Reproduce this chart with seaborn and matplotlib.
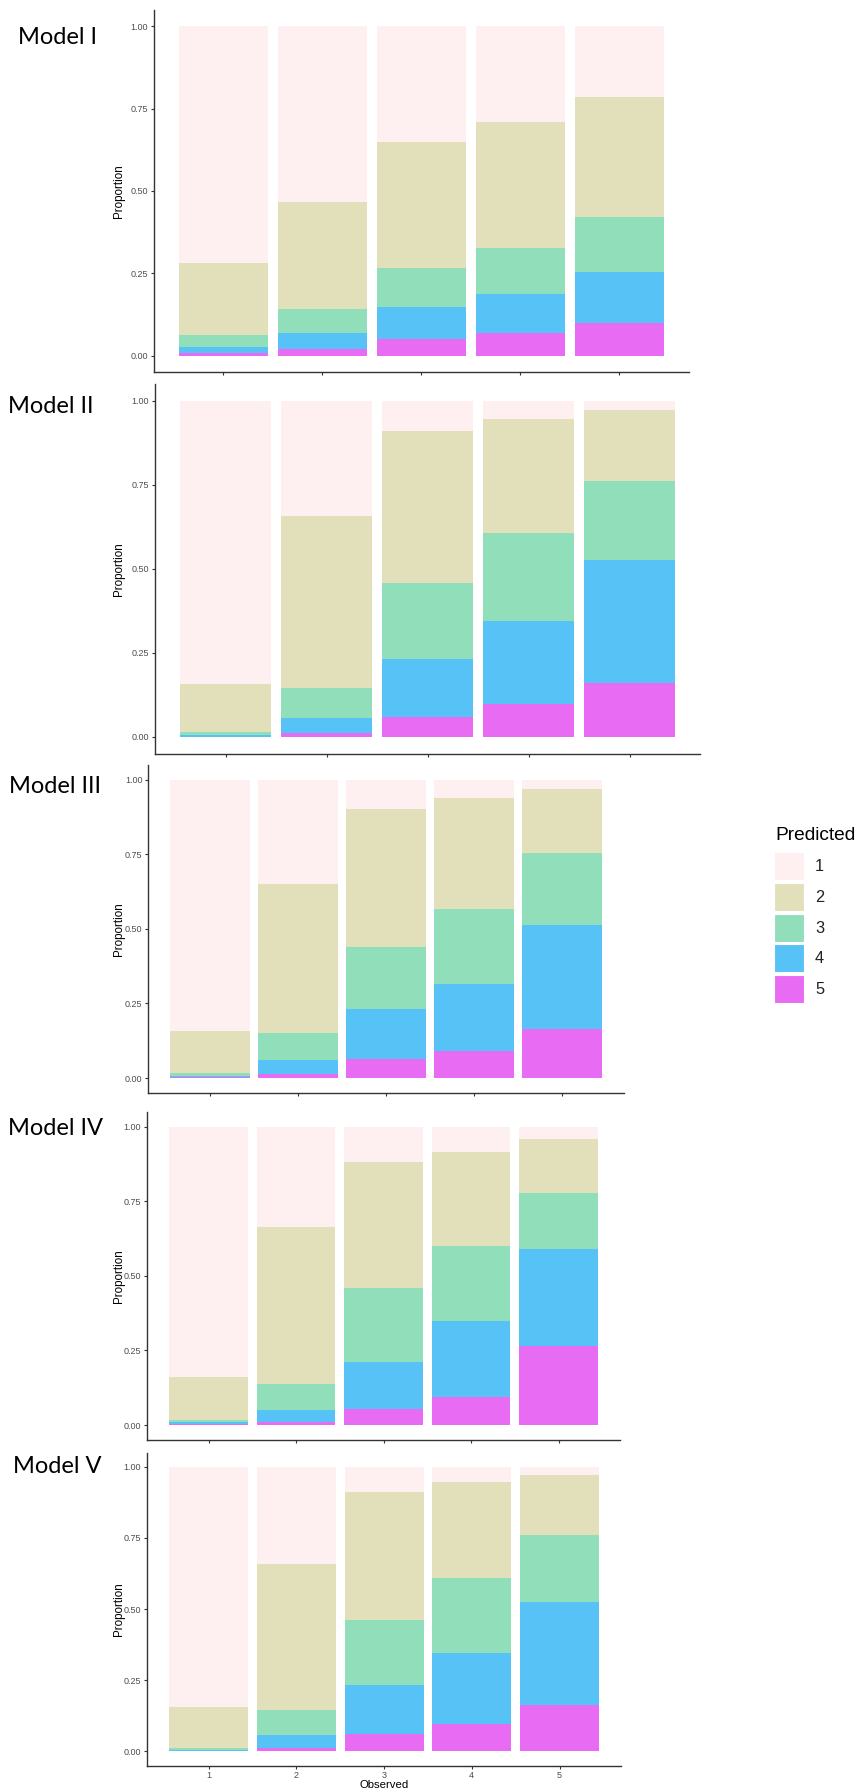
import matplotlib
matplotlib.use("Agg")
import matplotlib.pyplot as plt
import seaborn as sns
from matplotlib.patches import Rectangle

# ---------------- data ----------------
observed = ["1", "2", "3", "4", "5"]
predicted = ["1", "2", "3", "4", "5"]
colors = ["#FEF0F0", "#E2E0BB", "#91DEBA", "#57C2F6", "#E76BF3"]
model_names = ["Model I", "Model II", "Model III", "Model IV", "Model V"]
tick_vals = [0.0, 0.25, 0.5, 0.75, 1.0]
tick_labels = ["0.00", "0.25", "0.50", "0.75", "1.00"]

# rows: predicted class 1..5 ; columns: observed class 1..5
model_I = [
    [0.718, 0.535, 0.352, 0.290, 0.214],
    [0.219, 0.325, 0.383, 0.383, 0.365],
    [0.036, 0.071, 0.119, 0.141, 0.168],
    [0.020, 0.049, 0.095, 0.117, 0.155],
    [0.007, 0.020, 0.051, 0.069, 0.098],
]
model_II = [
    [0.843, 0.344, 0.089, 0.054, 0.028],
    [0.143, 0.509, 0.452, 0.339, 0.212],
    [0.009, 0.090, 0.227, 0.263, 0.234],
    [0.004, 0.046, 0.173, 0.247, 0.365],
    [0.001, 0.011, 0.059, 0.097, 0.161],
]
model_III = [
    [0.842, 0.350, 0.097, 0.060, 0.031],
    [0.141, 0.499, 0.462, 0.374, 0.214],
    [0.009, 0.092, 0.211, 0.249, 0.242],
    [0.006, 0.046, 0.166, 0.225, 0.347],
    [0.002, 0.013, 0.064, 0.092, 0.166],
]
model_IV = [
    [0.840, 0.336, 0.118, 0.086, 0.042],
    [0.142, 0.527, 0.423, 0.314, 0.181],
    [0.009, 0.086, 0.247, 0.251, 0.187],
    [0.007, 0.040, 0.158, 0.254, 0.324],
    [0.002, 0.011, 0.054, 0.095, 0.266],
]
model_V = [
    [0.844, 0.343, 0.089, 0.054, 0.028],
    [0.144, 0.513, 0.451, 0.338, 0.212],
    [0.007, 0.088, 0.228, 0.263, 0.234],
    [0.004, 0.045, 0.173, 0.248, 0.365],
    [0.001, 0.011, 0.059, 0.097, 0.161],
]
models = [model_I, model_II, model_III, model_IV, model_V]

# ---------------- layout (pixels) ----------------
W, H = 859, 1792
# (left, right, top, bottom) of each panel's axes box
panel_boxes = [
    (154.0, 688.6, 9.7, 372.0),
    (154.8, 700.2, 384.0, 753.8),
    (148.4, 623.6, 764.8, 1093.0),
    (147.3, 619.8, 1111.8, 1440.0),
    (147.1, 621.0, 1452.5, 1765.5),
]
# model label positions: (x, baseline y)
label_pos = [(18, 44), (8, 413), (9, 793), (8, 1135), (13, 1473)]

sns.set_theme(style="white")
plt.rcParams["font.family"] = ["Liberation Sans", "DejaVu Sans"]

fig = plt.figure(figsize=(W / 100, H / 100), dpi=100)
fig.patch.set_facecolor("white")


def fx(x):
    return x / W


def fy(y):
    return 1 - y / H


for i, (model, box) in enumerate(zip(models, panel_boxes)):
    l, r, t, b = box
    ax = fig.add_axes([fx(l), fy(b), (r - l) / W, (b - t) / H])
    ax.set_facecolor("white")
    for k in range(5):
        cum = [sum(model[j][c] for j in range(k, 5)) for c in range(5)]
        sns.barplot(x=observed, y=cum, color=colors[k], width=0.9,
                    saturation=1, linewidth=0, errorbar=None, ax=ax)
    ax.set_xlim(-0.7, 4.7)
    ax.set_ylim(-0.05, 1.05)
    ax.set_yticks(tick_vals)
    ax.set_yticklabels(tick_labels)
    sns.despine(ax=ax)
    for s in ["left", "bottom"]:
        ax.spines[s].set_color("#333333")
        ax.spines[s].set_linewidth(1.0)
    ax.tick_params(axis="both", which="major", length=2.3, width=0.8,
                   color="#333333", labelcolor="#4D4D4D", labelsize=6.5,
                   pad=2, left=True, bottom=True)
    ax.set_ylabel("Proportion", fontsize=8.4, color="black")
    ax.yaxis.set_label_coords((124.5 - l) / (r - l), 0.5)
    if i < 4:
        ax.tick_params(axis="x", labelbottom=False)
        ax.set_xlabel("")
    else:
        ax.tick_params(axis="x", pad=1.5)
        ax.set_xlabel("Observed", fontsize=8.2, color="black")
        ax.xaxis.set_label_coords(0.5, (b - 1780) / (b - t))
        ax.xaxis.label.set_va("top")
    ax.grid(False)

    lx, ly = label_pos[i]
    fig.text(fx(lx), fy(ly), model_names[i], fontsize=17.0,
             family=["Lato", "DejaVu Sans"], color="black",
             ha="left", va="baseline")

# ---------------- legend ----------------
fig.text(fx(775), fy(840), "Predicted", fontsize=13.8, color="black",
         ha="left", va="baseline")
key_tops = [852, 883, 914, 944, 975]
for k, kt in enumerate(key_tops):
    fig.patches.append(Rectangle((fx(774), fy(kt + 28)), 30 / W, 28 / H,
                                 transform=fig.transFigure,
                                 facecolor=colors[k], edgecolor="white",
                                 linewidth=0.8))
    fig.text(fx(815), fy(kt + 14), predicted[k], fontsize=11.8,
             color="#222222", ha="left", va="center")

fig.savefig("out.png", dpi=100, facecolor="white")
